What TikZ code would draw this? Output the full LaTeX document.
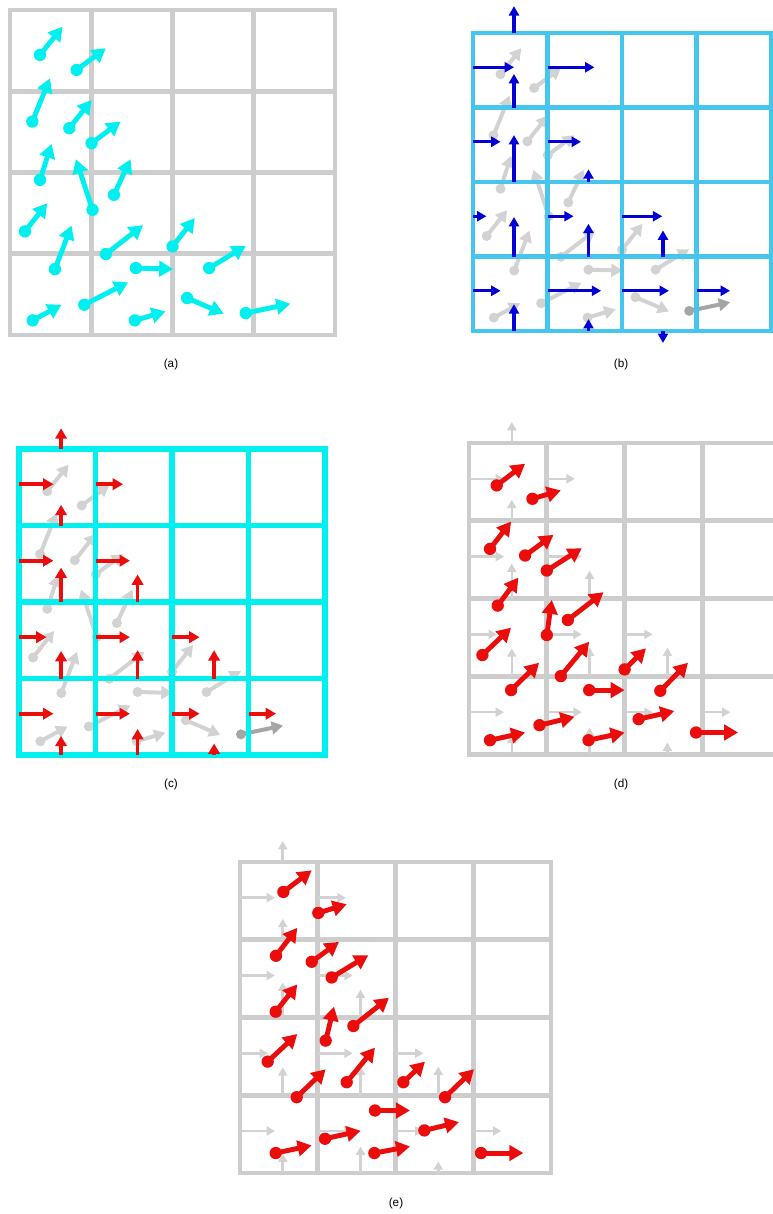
\documentclass[tikz,border=0pt]{standalone}
\usepackage{fontspec}
\setmainfont{Liberation Sans}
\usepackage{xcolor}
\definecolor{flipcyan}{RGB}{0,240,240}
\definecolor{flipred}{RGB}{235,12,12}
\definecolor{flipblue}{RGB}{0,0,215}
\definecolor{gridsky}{RGB}{70,198,238}
\definecolor{gridgray}{RGB}{205,205,205}
\definecolor{fadegray}{RGB}{210,210,210}
\definecolor{darkgray}{RGB}{165,165,165}
\usepackage{tikz}
\usetikzlibrary{arrows.meta}
% particles: dot x/y, tip x/y, in cell units (y down)
\newcommand{\partsA}{0.369/0.553/0.648/0.205, 0.820/0.738/1.180/0.471,
  0.275/1.373/0.492/0.840, 0.730/1.455/1.004/1.107, 1.004/1.639/1.361/1.373,
  0.369/2.090/0.512/1.648, 1.016/2.459/0.811/1.836, 1.279/2.275/1.484/1.836,
  0.184/2.725/0.459/2.377, 0.553/3.189/0.758/2.652, 1.180/3.004/1.639/2.648,
  2.000/2.910/2.275/2.561, 1.549/3.176/2.008/3.189, 2.451/3.176/2.902/2.902,
  0.279/3.820/0.635/3.627, 0.914/3.627/1.455/3.352, 1.537/3.820/1.914/3.709,
  2.180/3.545/2.631/3.738}
\newcommand{\partsD}{0.356/0.545/0.721/0.266, 0.815/0.717/1.180/0.609,
  0.270/1.361/0.541/1.009, 0.721/1.446/1.086/1.180, 1.000/1.639/1.451/1.352,
  0.369/2.090/0.635/1.730, 1.000/2.468/1.064/2.017, 1.270/2.275/1.730/1.918,
  0.172/2.725/0.541/2.373, 0.541/3.176/0.901/2.824, 1.180/2.996/1.545/2.554,
  2.000/2.910/2.275/2.639, 1.545/3.176/2.000/3.176, 2.459/3.185/2.815/2.824,
  0.270/3.820/0.721/3.721, 0.906/3.627/1.356/3.519, 1.536/3.820/2.000/3.721,
  2.180/3.549/2.639/3.446, 2.918/3.721/3.459/3.721}
\newcommand{\partsE}{0.558/0.385/0.922/0.107, 1.007/0.655/1.372/0.543,
  0.463/1.206/0.737/0.847, 0.922/1.283/1.273/1.027, 1.179/1.485/1.651/1.198,
  0.459/1.925/0.737/1.574, 1.102/2.297/1.209/1.861, 1.458/2.109/1.916/1.745,
  0.356/2.567/0.737/2.212, 0.729/3.025/1.102/2.665, 1.372/2.832/1.736/2.387,
  2.101/2.832/2.379/2.567, 1.736/3.196/2.186/3.196, 2.637/3.025/3.010/2.665,
  0.459/3.743/0.922/3.645, 1.093/3.559/1.552/3.457, 1.728/3.743/2.186/3.658,
  2.371/3.452/2.817/3.345, 3.100/3.743/3.644/3.743}
% face velocities: u = col/row/length, v = col/face/length (up)
\newcommand{\facesUB}{0/0/0.55, 1/0/0.63, 0/1/0.37, 1/1/0.45, 0/2/0.18, 1/2/0.35,
  2/2/0.54, 0/3/0.37, 1/3/0.72, 2/3/0.63, 3/3/0.45}
\newcommand{\facesVB}{0/0/0.36, 0/1/0.45, 0/2/0.63, 1/2/0.17, 0/3/0.53, 1/3/0.44,
  2/3/0.35, 0/4/0.36, 1/4/0.16, 2/4/-0.16}
\newcommand{\facesUC}{0/0/0.45, 1/0/0.36, 0/1/0.45, 1/1/0.45, 0/2/0.36, 1/2/0.45,
  2/2/0.36, 0/3/0.45, 1/3/0.45, 2/3/0.36, 3/3/0.36}
\newcommand{\facesVC}{0/0/0.27, 0/1/0.27, 0/2/0.45, 1/2/0.36, 0/3/0.36, 1/3/0.37,
  2/3/0.37, 0/4/0.25, 1/4/0.34, 2/4/0.15}

\begin{document}
\begin{tikzpicture}[
  x=0.03cm, y=-0.03cm,
  font=\fontsize{10}{12}\selectfont,
  gridgray/.style={draw=gridgray, line width=4.2pt},
  gridblue/.style={draw=gridsky, line width=3.6pt},
  gridcyan/.style={draw=flipcyan, line width=4.4pt},
  partcyan/.style={flipcyan, line width=4.2pt, -{Triangle[length=4.2mm,width=4.6mm]}},
  partred/.style={flipred, line width=4.2pt, -{Triangle[length=4.2mm,width=4.6mm]}},
  partfade/.style={fadegray, line width=3.4pt, -{Triangle[length=3.4mm,width=3.8mm]}},
  macblue/.style={flipblue, line width=2.8pt, -{Triangle[length=2.8mm,width=3mm]}},
  macred/.style={flipred, line width=3.2pt, -{Triangle[length=3.1mm,width=3.4mm]}},
  macfade/.style={fadegray, line width=2.2pt, -{Triangle[length=2.5mm,width=2.7mm]}}]
  \useasboundingbox (0,0) rectangle (772,1214);

  % (a) particles
  \begin{scope}[shift={(10,10)}, x=2.4375cm, y=-2.4375cm]
    \draw[gridgray] (0,0) rectangle (4,4);
    \foreach \k in {1,2,3} \draw[gridgray] (\k,0) -- (\k,4) (0,\k) -- (4,\k);
    \foreach \x/\y/\tx/\ty in \partsA {
      \draw[partcyan] (\x,\y) -- (\tx,\ty);
      \fill[flipcyan] (\x,\y) circle (1.85mm);}
    \draw[partcyan] (2.902,3.730) -- (3.451,3.615);
    \fill[flipcyan] (2.902,3.730) circle (1.85mm);
  \end{scope}

  % (b) particles to grid
  \begin{scope}[shift={(473,33)}, x=2.235cm, y=-2.235cm]
    \foreach \x/\y/\tx/\ty in \partsA {
      \draw[partfade] (\x,\y) -- (\tx,\ty);
      \fill[fadegray] (\x,\y) circle (1.5mm);}
    \draw[partfade, darkgray] (2.902,3.730) -- (3.451,3.615);
    \fill[darkgray] (2.902,3.730) circle (1.5mm);
    \draw[gridblue] (0,0) rectangle (4,4);
    \foreach \k in {1,2,3} \draw[gridblue] (\k,0) -- (\k,4) (0,\k) -- (4,\k);
    \foreach \c/\r/\l in \facesUB \draw[macblue] (\c,\r+0.46) -- ++(\l,0);
    \foreach \c/\f/\l in \facesVB \draw[macblue] (\c+0.55,\f) -- ++(0,{-(\l)});
  \end{scope}

  % (c) grid update
  \begin{scope}[shift={(19,449)}, x=2.295cm, y=-2.295cm]
    \foreach \x/\y/\tx/\ty in \partsA {
      \draw[partfade] (\x,\y) -- (\tx,\ty);
      \fill[fadegray] (\x,\y) circle (1.5mm);}
    \draw[partfade, darkgray] (2.902,3.730) -- (3.451,3.615);
    \fill[darkgray] (2.902,3.730) circle (1.5mm);
    \draw[gridcyan] (0,0) rectangle (4,4);
    \foreach \k in {1,2,3} \draw[gridcyan] (\k,0) -- (\k,4) (0,\k) -- (4,\k);
    \foreach \c/\r/\l in \facesUC \draw[macred] (\c,\r+0.46) -- ++(\l,0);
    \foreach \c/\f/\l in \facesVC \draw[macred] (\c+0.55,\f) -- ++(0,{-(\l)});
  \end{scope}

  % (d) grid to particles
  \begin{scope}[shift={(469,443)}, x=2.334cm, y=-2.334cm]
    \draw[gridgray] (0,0) rectangle (4,4);
    \foreach \k in {1,2,3} \draw[gridgray] (\k,0) -- (\k,4) (0,\k) -- (4,\k);
    \foreach \c/\r/\l in \facesUC \draw[macfade] (\c,\r+0.46) -- ++(\l,0);
    \foreach \c/\f/\l in \facesVC \draw[macfade] (\c+0.55,\f) -- ++(0,{-(\l)});
    \foreach \x/\y/\tx/\ty in \partsD {
      \draw[partred] (\x,\y) -- (\tx,\ty);
      \fill[flipred] (\x,\y) circle (1.85mm);}
  \end{scope}

  % (e) advected particles
  \begin{scope}[shift={(240,862)}, x=2.3325cm, y=-2.3325cm]
    \draw[gridgray] (0,0) rectangle (4,4);
    \foreach \k in {1,2,3} \draw[gridgray] (\k,0) -- (\k,4) (0,\k) -- (4,\k);
    \foreach \c/\r/\l in \facesUC \draw[macfade] (\c,\r+0.46) -- ++(\l,0);
    \foreach \c/\f/\l in \facesVC \draw[macfade] (\c+0.55,\f) -- ++(0,{-(\l)});
    \foreach \x/\y/\tx/\ty in \partsE {
      \draw[partred] (\x,\y) -- (\tx,\ty);
      \fill[flipred] (\x,\y) circle (1.85mm);}
  \end{scope}

  \node (capa) at (171,364) {(a)};
  \node (capb) at (621,364) {(b)};
  \node (capc) at (171,784) {(c)};
  \node (capd) at (621,784) {(d)};
  \node (cape) at (396,1203) {(e)};
\end{tikzpicture}
\end{document}
